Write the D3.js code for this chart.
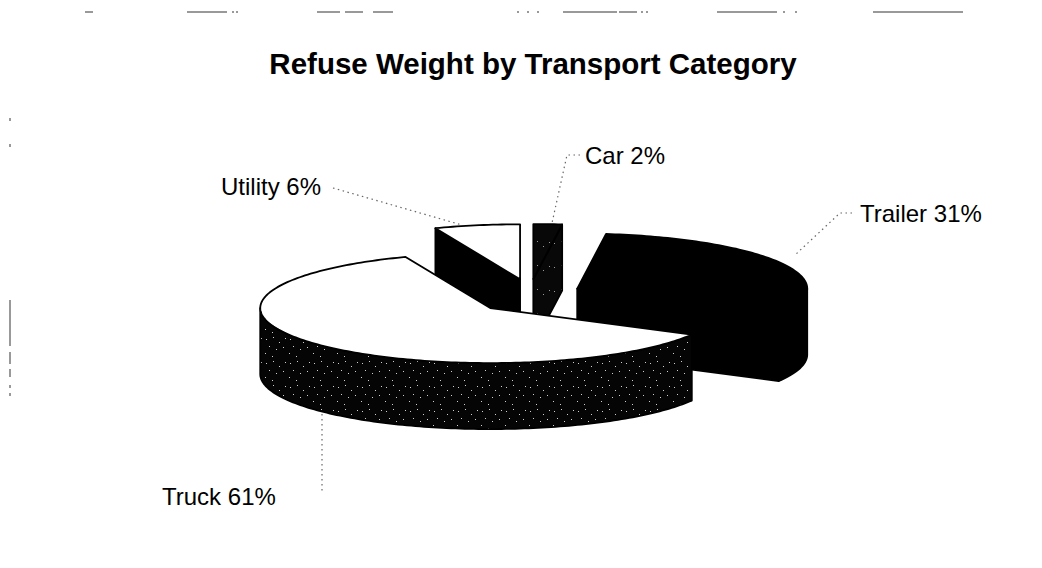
<!DOCTYPE html>
<html><head><meta charset="utf-8">
<script src="https://cdn.jsdelivr.net/npm/d3@7"></script>
<style>body{margin:0;background:#fff} svg{display:block}</style>
</head><body>
<svg id="c" width="1042" height="568"></svg>
<script>
// ---- data ----
const categories = ["Car", "Trailer", "Truck", "Utility"];
const values = [2, 31, 61, 6];
const labelTexts = ["Car 2%", "Trailer 31%", "Truck 61%", "Utility 6%"];
const chartTitle = "Refuse Weight by Transport Category";

// ---- layout / style ----
const W = 1042, H = 568;
const cx = 530, cy = 296.5, rx = 230, ry = 55, depth = 66;
const exX = 53, exY = 17.5;
const labelPos = {
  Car:     {x: 585, y: 164, lead: [[580,155],[567,155],[552,223]]},
  Trailer: {x: 860, y: 222, lead: [[852,213],[840,213],[795,255]]},
  Truck:   {x: 162, y: 505, lead: [[322,414],[322,494]]},
  Utility: {x: 221, y: 195, lead: [[333,188],[462,225]]}
};
const topStyle = {Car: "url(#speckDark)", Trailer: "#000", Truck: "#fff", Utility: "#fff"};
const sideStyle = {Car: "url(#speckDark)", Trailer: "#000", Truck: "url(#speck)", Utility: "#000"};

const svg = d3.select("#c");
const defs = svg.append("defs");

// speckled textures (fixed dot layout, imitates scanned halftone)
const dots = [[2,3],[9,1],[15,6],[21,2],[5,10],[12,13],[19,11],[1,17],[8,20],[16,18],[22,22],[4,23],[13,4],[18,15],[10,8]];
function makePattern(id, bg, fg, n) {
  const p = defs.append("pattern").attr("id", id).attr("patternUnits", "userSpaceOnUse")
    .attr("width", 24).attr("height", 24);
  p.append("rect").attr("width", 24).attr("height", 24).attr("fill", bg);
  p.selectAll("rect.d").data(dots.slice(0, n)).join("rect").attr("class", "d")
    .attr("x", d => d[0]).attr("y", d => d[1]).attr("width", 1).attr("height", 1)
    .attr("fill", fg);
}
makePattern("speck", "#050505", "#cfcfcf", 9);
makePattern("speckDark", "#080808", "#999", 4);

// ---- title ----
svg.append("text").attr("x", 533).attr("y", 74).attr("text-anchor", "middle")
  .attr("font-family", "Liberation Sans, Arial, sans-serif").attr("font-weight", "bold")
  .attr("font-size", 29.5).attr("fill", "#000").text(chartTitle);

// ---- scan border remnants ----
const topDashes = [[85,93],[187,227],[232,234],[236,238],[317,340],[345,363],[373,393],[517,519],[527,529],[537,539],[563,617],[619,637],[641,643],[646,648],[717,777],[783,785],[795,797],[873,963]];
svg.selectAll("line.td").data(topDashes).join("line").attr("class","td")
  .attr("x1", d => d[0]).attr("x2", d => d[1]).attr("y1", 12).attr("y2", 12)
  .attr("stroke", "#777").attr("stroke-width", 1.5);
const leftDashes = [[118,121],[144,147],[300,346],[352,364],[369,377],[385,388],[393,396]];
svg.selectAll("line.ld").data(leftDashes).join("line").attr("class","ld")
  .attr("y1", d => d[0]).attr("y2", d => d[1]).attr("x1", 10).attr("x2", 10)
  .attr("stroke", "#777").attr("stroke-width", 1.5);

// ---- pie geometry ----
const arcs = d3.pie().sort(null).value(d => d)(values);
const line = d3.line();

function origin(a) {
  const m = (a.startAngle + a.endAngle) / 2;
  return {x: cx + exX * Math.sin(m), y: cy - exY * Math.cos(m)};
}
function P(o, t, r, h) {
  return [o.x + r * rx * Math.sin(t), o.y - r * ry * Math.cos(t) + h];
}
function arcPts(o, a0, a1, h) {
  const n = Math.max(2, Math.ceil(Math.abs(a1 - a0) / 0.02));
  return d3.range(n + 1).map(i => P(o, a0 + (a1 - a0) * i / n, 1, h));
}

const order = arcs.map((a, i) => ({a, i}))
  .sort((p, q) => Math.cos((q.a.startAngle + q.a.endAngle) / 2) - Math.cos((p.a.startAngle + p.a.endAngle) / 2));

const g = svg.append("g");
order.forEach(({a, i}) => {
  const name = categories[i];
  const o = origin(a);
  const sg = g.append("g").attr("class", "slice " + name);
  const draw = (pts, fill) => {
    sg.append("path").attr("d", line(pts) + "Z").attr("fill", fill)
      .attr("stroke", "#000").attr("stroke-width", 1.8).attr("stroke-linejoin", "round");
  };
  const a0 = a.startAngle, a1 = a.endAngle;
  // radial faces
  if (Math.cos(a0 - Math.PI / 2) < -1e-6) {
    draw([P(o, a0, 0, 0), P(o, a0, 1, 0), P(o, a0, 1, depth), P(o, a0, 0, depth)], sideStyle[name]);
  }
  if (Math.cos(a1 + Math.PI / 2) < -1e-6) {
    draw([P(o, a1, 0, 0), P(o, a1, 1, 0), P(o, a1, 1, depth), P(o, a1, 0, depth)], sideStyle[name]);
  }
  // outer wall (front-facing part)
  const lo = Math.max(a0, Math.PI / 2), hi = Math.min(a1, 3 * Math.PI / 2);
  if (hi > lo) {
    draw(arcPts(o, lo, hi, 0).concat(arcPts(o, hi, lo, depth)), sideStyle[name]);
  }
  // top face
  draw([P(o, a0, 0, 0)].concat(arcPts(o, a0, a1, 0)), topStyle[name]);
});

// ---- labels & leader lines ----
categories.forEach((c, i) => {
  const lp = labelPos[c];
  svg.append("path").attr("d", line(lp.lead)).attr("fill", "none")
    .attr("stroke", "#666").attr("stroke-width", 1.2).attr("stroke-dasharray", "1.5,3.5");
  svg.append("text").attr("x", lp.x).attr("y", lp.y)
    .attr("font-family", "Liberation Sans, Arial, sans-serif").attr("font-size", 24)
    .attr("fill", "#000").text(labelTexts[i]);
});
</script>
</body></html>
